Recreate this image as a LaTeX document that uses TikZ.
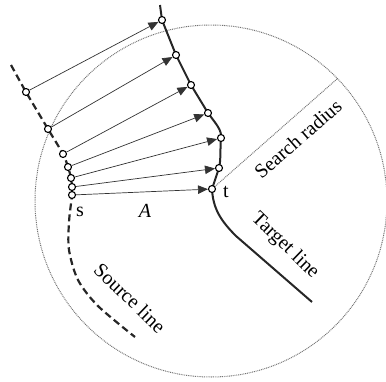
\documentclass[tikz,border=0pt]{standalone}
\usepackage{fontspec}
\setmainfont{Liberation Serif}
\usepackage{tikz}
\usetikzlibrary{arrows.meta}

\begin{document}
\begin{tikzpicture}[x=1pt, y=-1pt,
  pt/.style={circle, draw=black, fill=white, line width=1.1pt, inner sep=0pt, minimum size=7pt},
  match/.style={-{Triangle[length=10pt, width=8.5pt]}, line width=0.7pt, black!80},
  srcline/.style={line width=2.2pt, black!85, dash pattern=on 7pt off 4pt},
  tgtline/.style={line width=2pt, black!85},
  searchdot/.style={black!55, line width=1pt, dash pattern=on 0.9pt off 0.9pt},
  lbl/.style={font=\fontsize{20}{22}\selectfont, inner sep=1pt}
]
\useasboundingbox (0,0) rectangle (386,381);
% search circle
\draw[searchdot] (211,201) circle[radius=176];
\coordinate (rim) at (337,79);
% positions
\coordinate (s1) at (26,92);
\coordinate (s2) at (48,129);
\coordinate (s3) at (63,154);
\coordinate (s4) at (68,167);
\coordinate (s5) at (71,178);
\coordinate (s6) at (72,187);
\coordinate (s7) at (72,195);
\coordinate (t1) at (162,20);
\coordinate (t2) at (176,55);
\coordinate (t3) at (191,85);
\coordinate (t4) at (208,113);
\coordinate (t5) at (221,138);
\coordinate (t6) at (219,168);
\coordinate (t7) at (212,189);
% search radius
\draw[searchdot] (t7) -- (rim);
% source line
\draw[srcline] plot[smooth] coordinates {(11,65) (s1) (s2) (s3) (s4) (s5) (s6) (s7) (69,222) (69,250) (78,280) (98,306) (135,337)};
% target line
\draw[tgtline] (160,5) -- (t1) -- (t2) -- (t3) -- (t4)
  .. controls (216,124) and (222,130) .. (t5)
  .. controls (220,150) and (221,160) .. (t6) -- (t7)
  .. controls (213,208) and (220,220) .. (236,236) -- (312,302);
% points
\foreach \i in {1,...,7} {
  \node[pt] (src\i) at (s\i) {};
  \node[pt] (tgt\i) at (t\i) {};
}
\foreach \i in {1,...,7}
  \draw[match] (src\i) -- (tgt\i);
% labels
\node[lbl] (slab) at (80,212) {s};
\node[lbl] (alab) at (145,211) {\itshape A};
\node[lbl] (tlab) at (226,192) {t};
\node[lbl, rotate=41] (rlab) at (298,139) {Search radius};
\node[lbl, rotate=-44] (tline) at (285,246) {Target line};
\node[lbl, rotate=-44] (sline) at (130,298) {Source line};
\end{tikzpicture}
\end{document}
